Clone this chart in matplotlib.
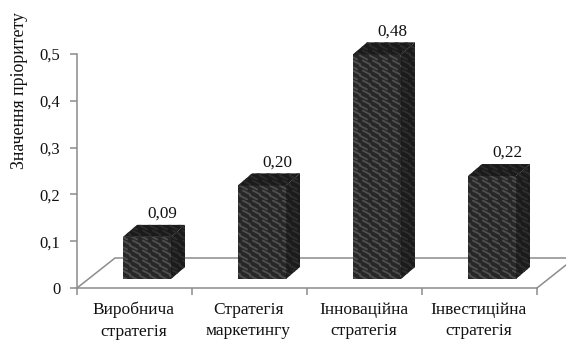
import warnings
import numpy as np
import matplotlib
matplotlib.use("Agg")
import matplotlib.pyplot as plt
import matplotlib.hatch as mhatch
from matplotlib.path import Path
from matplotlib.patches import Polygon

warnings.filterwarnings('ignore')
plt.rcParams['font.family'] = ['Liberation Serif', 'DejaVu Serif']
plt.rcParams['hatch.linewidth'] = 1.35

categories = ["Виробнича\nстратегія", "Стратегія\nмаркетингу", "Інноваційна\nстратегія", "Інвестиційна\nстратегія"]
values = [0.09, 0.20, 0.48, 0.22]
value_labels = ["0,09", "0,20", "0,48", "0,22"]
y_ticks = [0, 0.1, 0.2, 0.3, 0.4, 0.5]
y_tick_labels = ["0", "0,1", "0,2", "0,3", "0,4", "0,5"]


class BrickHatch(mhatch.HatchPatternBase):
    """Slanted brick texture: short dashes in offset rows (one 100 px tile)."""
    rows, cols = 20, 10

    def __init__(self, hatch, density):
        self.on = hatch.count('B') > 0
        self.num_vertices = 2 * self.rows * self.cols if self.on else 0

    def set_vertices_and_codes(self, vertices, codes):
        if not self.on:
            return
        k = 0
        for r in range(self.rows):
            for c in range(self.cols):
                cx = 0.035 + 0.03 * (r % 2) + c / self.cols
                cy = (r + 0.5) / self.rows
                vertices[k] = (cx - 0.034, cy + 0.018)
                vertices[k + 1] = (cx + 0.034, cy - 0.018)
                codes[k] = Path.MOVETO
                codes[k + 1] = Path.LINETO
                k += 2


mhatch._hatch_types.append(BrickHatch)

W, H = 566, 340
fig = plt.figure(figsize=(W/100, H/100), dpi=100)
L, R, B, T = 77, 537, 288, 54
ax = fig.add_axes([L/W, 1-B/H, (R-L)/W, (B-T)/H])
ax.set_xlim(0, 4)
ax.set_ylim(0, 0.5)
ux = (R-L)/4      # px per category
uy = (B-T)/0.5    # px per unit
grey = '#8c8c8c'

# floor
fdx, fdy = 38/ux, 30/uy
ax.plot([0, fdx, 4+fdx], [0, fdy, fdy], color=grey, lw=1.1, clip_on=False, zorder=1)
ax.plot([4, 4+29/ux], [0, 23/uy], color=grey, lw=1.1, clip_on=False, zorder=1)

# bars
bw = 48/ux
off = 0.5 + 12.5/ux
base = 9/uy
ddx, ddy = 14/ux, 12/uy
for i, v in enumerate(values):
    x0 = i + off - bw/2
    x1 = x0 + bw
    y0, y1 = base, base + v
    front = [(x0, y0), (x1, y0), (x1, y1), (x0, y1)]
    side = [(x1, y0), (x1+ddx, y0+ddy), (x1+ddx, y1+ddy), (x1, y1)]
    top = [(x0, y1), (x1, y1), (x1+ddx, y1+ddy), (x0+ddx, y1+ddy)]
    ax.add_patch(Polygon(front, closed=True, facecolor='#272727', edgecolor='#4f4f4f',
                         hatch='B', lw=0, clip_on=False, zorder=3))
    ax.add_patch(Polygon(side, closed=True, facecolor='#1b1b1b', edgecolor='#2f2f2f',
                         hatch='B', lw=0, clip_on=False, zorder=3))
    ax.add_patch(Polygon(top, closed=True, facecolor='#1a1a1a', edgecolor='#2c2c2c',
                         hatch='B', lw=0, clip_on=False, zorder=3))
    ax.text(x1 - 9/ux, y1 + ddy + 3/uy, value_labels[i], ha='center', va='bottom',
            fontsize=12.3, color='#111111', zorder=4)

ax.set_xticks(range(5))
ax.set_xticklabels([])
for i, c in enumerate(categories):
    ax.text(i + 0.5 - 1/ux, -14/uy, c, ha='center', va='top', fontsize=12.5,
            linespacing=1.45, color='#111111')
ax.set_yticks(y_ticks)
ax.set_yticklabels(y_tick_labels, fontsize=12, color='#111111')
ax.tick_params(axis='x', length=5, width=1.1, color=grey)
ax.tick_params(axis='y', length=5, width=1.1, color=grey, pad=7)
for s in ['top', 'right']:
    ax.spines[s].set_visible(False)
for s in ['left', 'bottom']:
    ax.spines[s].set_color(grey)
    ax.spines[s].set_linewidth(1.1)
fig.text(20/W, 1-91/H, "Значення пріоритету", rotation=90, ha='center', va='center',
         fontsize=12.8, color='#111111')
fig.savefig('out.png', dpi=100)
